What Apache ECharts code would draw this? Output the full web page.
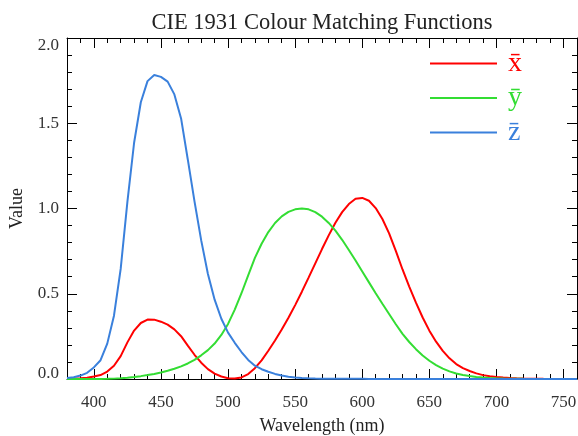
<!DOCTYPE html>
<html>
<head>
<meta charset="utf-8">
<script src="https://cdn.jsdelivr.net/npm/echarts@6/dist/echarts.min.js"></script>
<style type="text/css">
html,body{margin:0;padding:0;background:#fff;}
#chart{width:578px;height:436px;}
</style>
</head>
<body>
<div id="chart"></div>
<script type="text/javascript">
// wavelength (nm), 5 nm steps
var wavelengths = [380,385,390,395,400,405,410,415,420,425,430,435,440,445,450,455,460,465,470,475,
    480,485,490,495,500,505,510,515,520,525,530,535,540,545,550,555,560,565,570,575,
    580,585,590,595,600,605,610,615,620,625,630,635,640,645,650,655,660,665,670,675,
    680,685,690,695,700,705,710,715,720,725,730,735,740,745,750,755,760];

var xBar = [0.0014,0.0022,0.0042,0.0077,0.0143,0.0232,0.0435,0.0776,0.1344,0.2148,0.2839,0.3285,0.3483,0.3481,0.3362,0.3187,0.2908,0.2511,0.1954,0.1421,
    0.0956,0.0580,0.0320,0.0147,0.0049,0.0024,0.0093,0.0291,0.0633,0.1096,0.1655,0.2257,0.2904,0.3597,0.4334,0.5121,0.5945,0.6784,0.7621,0.8425,
    0.9163,0.9786,1.0263,1.0567,1.0622,1.0456,1.0026,0.9384,0.8544,0.7514,0.6424,0.5419,0.4479,0.3608,0.2835,0.2187,0.1649,0.1212,0.0874,0.0636,
    0.0468,0.0329,0.0227,0.0158,0.0114,0.0081,0.0058,0.0041,0.0029,0.0020,0.0014,0.0010,0.0007,0.0005,0.0003,0.0002,0.0002];

var yBar = [0.0000,0.0001,0.0001,0.0002,0.0004,0.0006,0.0012,0.0022,0.0040,0.0073,0.0116,0.0168,0.0230,0.0298,0.0380,0.0480,0.0600,0.0739,0.0910,0.1126,
    0.1390,0.1693,0.2080,0.2586,0.3230,0.4073,0.5030,0.6082,0.7100,0.7932,0.8620,0.9149,0.9540,0.9803,0.9950,1.0000,0.9950,0.9786,0.9520,0.9154,
    0.8700,0.8163,0.7570,0.6949,0.6310,0.5668,0.5030,0.4412,0.3810,0.3210,0.2650,0.2170,0.1750,0.1382,0.1070,0.0816,0.0610,0.0446,0.0320,0.0232,
    0.0170,0.0119,0.0082,0.0057,0.0041,0.0029,0.0021,0.0015,0.0010,0.0007,0.0005,0.0004,0.0002,0.0002,0.0001,0.0001,0.0001];

var zBar = [0.0065,0.0106,0.0201,0.0362,0.0679,0.1102,0.2074,0.3713,0.6456,1.0391,1.3856,1.6230,1.7471,1.7826,1.7721,1.7441,1.6692,1.5281,1.2876,1.0419,
    0.8130,0.6162,0.4652,0.3533,0.2720,0.2123,0.1582,0.1117,0.0783,0.0573,0.0422,0.0298,0.0203,0.0134,0.0088,0.0058,0.0039,0.0028,0.0021,0.0018,
    0.0017,0.0014,0.0011,0.0010,0.0008,0.0006,0.0003,0.0002,0.0002,0.0001,0.0001,0,0,0,0,0,0,0,0,0,
    0,0,0,0,0,0,0,0,0,0,0,0,0,0,0,0,0];

var names = ['x\u0304', 'y\u0304', 'z\u0304'];
var colors = ['#ff0000', '#33dd33', '#3a80dc'];
var values = [xBar, yBar, zBar];

var FONT = 'Liberation Serif';
var chart = echarts.init(document.getElementById('chart'));

function pairs(arr){
    return wavelengths.map(function(w, i){ return [w, arr[i]]; });
}

function xAxisDef(pos, major){
    return {
        type: 'value', position: pos, min: 380, max: 760,
        splitNumber: major ? 8 : undefined,
        minInterval: major ? 50 : undefined,
        maxInterval: major ? 50 : undefined,
        interval: major ? undefined : 10,
        axisLine: {show: major, onZero: false, lineStyle: {color: '#000', width: 1}},
        axisTick: {show: true, inside: true, length: major ? 10 : 5, lineStyle: {color: '#000'}},
        axisLabel: {show: major && pos === 'bottom', fontFamily: FONT, fontSize: 17, color: '#333', margin: 15,
            formatter: function(v){ return v % 50 === 0 ? String(v) : ''; }},
        splitLine: {show: false},
        name: major && pos === 'bottom' ? 'Wavelength (nm)' : '',
        nameLocation: 'middle', nameGap: 38,
        nameTextStyle: {fontFamily: FONT, fontSize: 18, color: '#222'}
    };
}

function yAxisDef(pos){
    var left = pos === 'left';
    return {
        type: 'value', position: pos, min: 0, max: 2, interval: 0.5,
        axisLine: {show: true, onZero: false, lineStyle: {color: '#000', width: 1}},
        axisTick: {show: true, inside: true, length: 10, lineStyle: {color: '#000'}},
        minorTick: {show: true, splitNumber: 5, length: 5, lineStyle: {color: '#000'}},
        axisLabel: {show: left, fontFamily: FONT, fontSize: 17, color: '#333', margin: 8,
            lineHeight: 10,
            padding: [3, 0, 0, 0],
            verticalAlignMinLabel: 'bottom',
            verticalAlignMaxLabel: 'top',
            formatter: function(v){ return v.toFixed(1); }
        },
        splitLine: {show: false},
        name: left ? 'Value' : '',
        nameLocation: 'middle', nameGap: 41,
        nameTextStyle: {fontFamily: FONT, fontSize: 18, color: '#222'}
    };
}

var option = {
    animation: false,
    backgroundColor: '#fff',
    color: colors,
    title: {
        text: 'CIE 1931 Colour Matching Functions',
        left: 322, top: 12, padding: 0, textAlign: 'center',
        textStyle: {fontFamily: FONT, fontSize: 22.5, fontWeight: 'normal', color: '#222'}
    },
    legend: {
        orient: 'vertical', left: 430, top: 49.5, padding: 0,
        itemWidth: 67, itemHeight: 2, itemGap: 6.5, icon: 'rect',
        textStyle: {fontFamily: FONT, fontSize: 28, padding: [0, 0, 0, 6]},
        data: names.map(function(n, i){ return {name: n, textStyle: {color: colors[i]}}; })
    },
    grid: {left: 67, right: 1, top: 38, bottom: 57, containLabel: false, outerBoundsMode: 'none'},
    xAxis: [xAxisDef('bottom', true), xAxisDef('bottom', false), xAxisDef('top', true), xAxisDef('top', false)],
    yAxis: [yAxisDef('left'), yAxisDef('right')],
    series: names.map(function(n, i){
        return {
            name: n, type: 'line', xAxisIndex: 0, yAxisIndex: 0,
            data: pairs(values[i]),
            showSymbol: false, smooth: false,
            lineStyle: {width: 2, color: colors[i]},
            itemStyle: {color: colors[i]}
        };
    })
};
chart.setOption(option);
</script>
</body>
</html>
